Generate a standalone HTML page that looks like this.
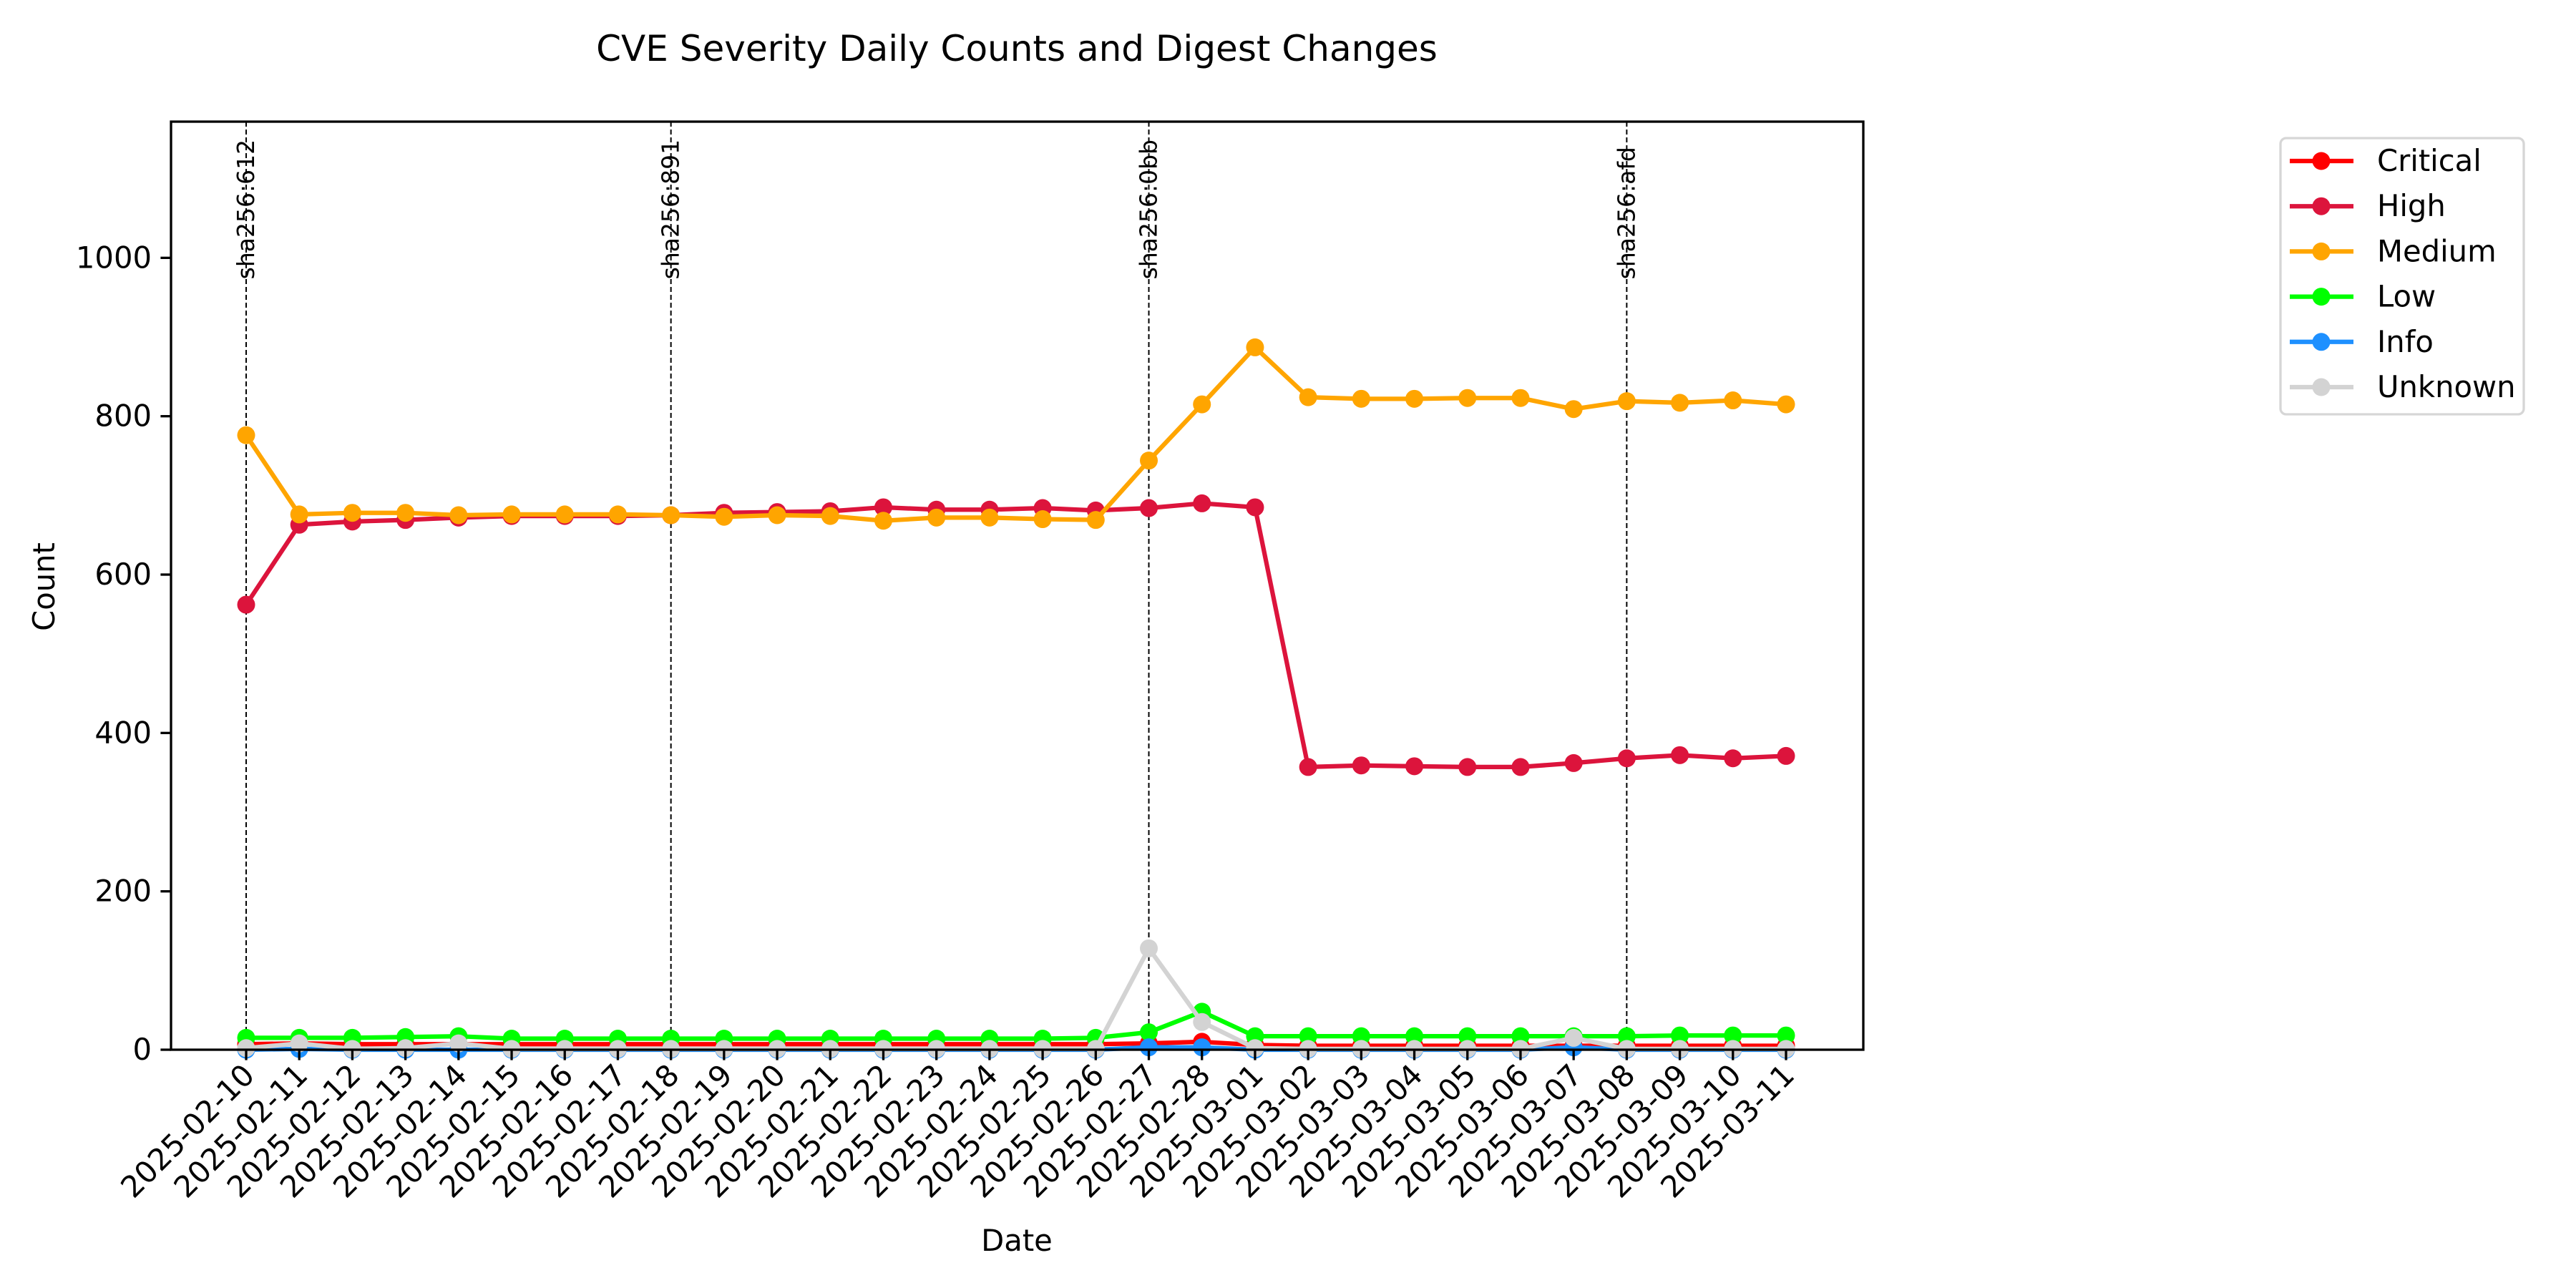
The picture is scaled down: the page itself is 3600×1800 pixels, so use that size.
<!DOCTYPE html>
<html><head><meta charset="utf-8"><style>
html,body{margin:0;padding:0;background:#fff;}
svg{display:block;font-family:"DejaVu Sans","Liberation Sans",sans-serif;}
</style></head><body>
<svg id="chart" width="3600" height="1800" viewBox="0 0 3600 1800" xmlns="http://www.w3.org/2000/svg">
<rect width="3600" height="1800" fill="#fff"/>
<text x="1421" y="85" font-size="50" text-anchor="middle">CVE Severity Daily Counts and Digest Changes</text>
<g id="plot"></g>
<text x="76" y="820" font-size="41.7" text-anchor="middle" transform="rotate(-90 76 820)">Count</text>
<text x="1421" y="1748" font-size="41.7" text-anchor="middle">Date</text>
</svg>
<script>
const dates = ["2025-02-10","2025-02-11","2025-02-12","2025-02-13","2025-02-14","2025-02-15","2025-02-16","2025-02-17","2025-02-18","2025-02-19","2025-02-20","2025-02-21","2025-02-22","2025-02-23","2025-02-24","2025-02-25","2025-02-26","2025-02-27","2025-02-28","2025-03-01","2025-03-02","2025-03-03","2025-03-04","2025-03-05","2025-03-06","2025-03-07","2025-03-08","2025-03-09","2025-03-10","2025-03-11"];
const critical = [7,8,7,7,7,7,7,7,7,7,7,7,7,7,7,7,7,8,10,6,5,5,5,5,5,5,5,5,5,5];
const high = [562,663,667,669,672,674,674,674,675,678,679,680,685,682,682,684,681,684,690,685,357,359,358,357,357,362,368,372,368,371];
const medium = [776,676,678,678,675,676,676,676,675,673,675,674,668,672,672,670,669,744,815,887,824,822,822,823,823,809,819,817,820,815];
const low = [15,15,15,16,17,14,14,14,14,14,14,14,14,14,14,14,15,22,48,17,17,17,17,17,17,17,17,18,18,18];
const info = [0,1,0,0,0,0,0,0,0,0,0,0,0,0,0,0,0,3,3,0,0,0,0,0,0,3,0,0,0,0];
const unknown = [2,8,1,2,8,1,1,1,1,1,1,1,1,1,1,1,1,128,35,2,1,1,1,1,1,15,1,1,1,1];
const yTicks = [0,200,400,600,800,1000];
const digestDates = ["2025-02-10","2025-02-18","2025-02-27","2025-03-08"];
const digestLabels = ["sha256:612","sha256:891","sha256:0bb","sha256:afd"];
const seriesNames = ["Critical","High","Medium","Low","Info","Unknown"];
const seriesColors = ["#ff0000","#dc143c","#ffa500","#00ff00","#1e90ff","#d3d3d3"];
const seriesData = [critical,high,medium,low,info,unknown];

const L=239,R=2604,T=170,B=1467,YMAX=1172;
const x0=344,x1=2496;
const xs=i=>x0+(x1-x0)*i/(dates.length-1);
const ys=v=>B-(B-T)*v/YMAX;
const NS="http://www.w3.org/2000/svg";
const g=document.getElementById('plot');
function mk(tag,attrs,parent){const e=document.createElementNS(NS,tag);for(const k in attrs)e.setAttribute(k,attrs[k]);(parent||g).appendChild(e);return e;}

digestDates.forEach((d,k)=>{
  const x=xs(dates.indexOf(d));
  const ln=mk('line',{x1:x,y1:T,x2:x,y2:B,stroke:'#000','stroke-width':2,'stroke-dasharray':'7,4'});
  
  
  const t=mk('text',{x:0,y:0,'font-size':33,'text-anchor':'start',transform:`translate(${x+11},${ys(1000)+30}) rotate(-90)`});
  t.textContent=digestLabels[k];
  
  
});

seriesData.forEach((arr,s)=>{
  const grp=mk('g',{});
  
  
  mk('polyline',{points:arr.map((v,i)=>xs(i)+','+ys(v)).join(' '),fill:'none',stroke:seriesColors[s],'stroke-width':6.25,'stroke-linejoin':'round'},grp);
  arr.forEach((v,i)=>{
    const c=mk('circle',{cx:xs(i),cy:ys(v),r:12.5,fill:seriesColors[s]},grp);
    
    
  });
});

const fr=mk('rect',{x:L,y:T,width:R-L,height:B-T,fill:'none',stroke:'#000','stroke-width':3.3});



yTicks.forEach(v=>{
  const y=ys(v);
  mk('line',{x1:L-14.6,y1:y,x2:L,y2:y,stroke:'#000','stroke-width':3.3});
  const t=mk('text',{x:L-27,y:y+14,'font-size':41.7,'text-anchor':'end'});
  t.textContent=v;
  
  
});
dates.forEach((d,i)=>{
  const x=xs(i);
  mk('line',{x1:x,y1:B,x2:x,y2:B+14.6,stroke:'#000','stroke-width':3.3});
  const t=mk('text',{x:0,y:0,'font-size':41.7,'text-anchor':'end',transform:`translate(${x+14},${B+38}) rotate(-45)`});
  t.textContent=d;
  
  
});

const lg=mk('g',{});


mk('rect',{x:3187,y:193,width:340,height:386,rx:8,fill:'#fff',stroke:'#d6d6d6','stroke-width':3.3},lg);
seriesNames.forEach((n,s)=>{
  const y=225+s*63.2;
  const e=mk('g',{},lg);
  
  
  mk('line',{x1:3200,y1:y,x2:3289,y2:y,stroke:seriesColors[s],'stroke-width':6.25},e);
  mk('circle',{cx:3244,cy:y,r:12.5,fill:seriesColors[s]},e);
  const t=mk('text',{x:3322,y:y+14,'font-size':41.7},e);
  t.textContent=n;
});
</script>
</body></html>
